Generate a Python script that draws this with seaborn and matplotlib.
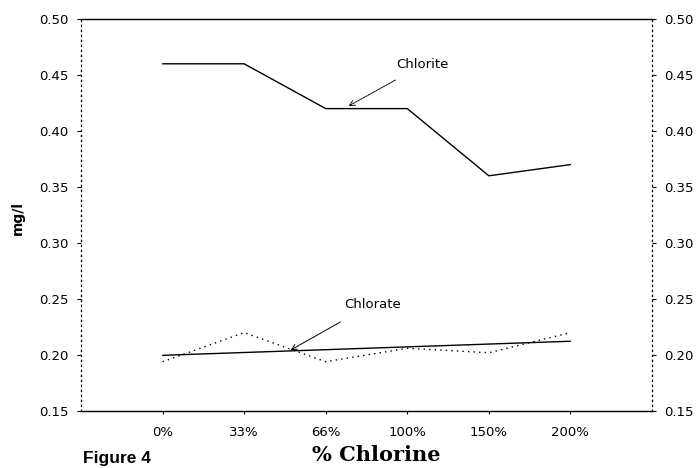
import matplotlib
matplotlib.use("Agg")
import matplotlib.pyplot as plt
import seaborn as sns
import numpy as np
import pandas as pd

categories = ["0%", "33%", "66%", "100%", "150%", "200%"]
chlorite = [0.46, 0.46, 0.42, 0.42, 0.36, 0.37]
chlorate = [0.194, 0.220, 0.194, 0.206, 0.202, 0.220]
y_ticks = [0.15, 0.20, 0.25, 0.30, 0.35, 0.40, 0.45, 0.50]

sns.set_style("ticks")
plt.rcParams['font.family'] = ['DejaVu Sans']
plt.rcParams['text.color'] = 'black'
plt.rcParams['axes.labelcolor'] = 'black'
plt.rcParams['xtick.color'] = 'black'
plt.rcParams['ytick.color'] = 'black'
plt.rcParams['axes.edgecolor'] = 'black'

df = pd.DataFrame({"idx": np.arange(len(categories)), "cat": categories,
                   "chlorite": chlorite, "chlorate": chlorate})

fig = plt.figure(figsize=(6.97, 4.68), dpi=100)
ax = fig.add_axes([81/697, 1-411/468, (652-81)/697, (411-19)/468])

sns.lineplot(data=df, x="idx", y="chlorite", ax=ax, color="black", lw=1.0)
sns.lineplot(data=df, x="idx", y="chlorate", ax=ax, color="black", lw=1.0,
             linestyle=(0, (1, 3)))
sns.regplot(data=df, x="idx", y="chlorate", ax=ax, scatter=False, ci=None,
            color="black", line_kws={"lw": 1.0})

ax.set_xlim(-1, 6)
ax.set_ylim(0.15, 0.50)
ax.set_xticks(df["idx"])
ax.set_xticklabels(categories, fontsize=9.5)
ax.set_yticks(y_ticks)
ax.set_yticklabels([f"{v:.2f}" for v in y_ticks], fontsize=9.5)
ax.tick_params(axis="y", which="both", left=True, right=True,
               labelleft=True, labelright=True, length=3, width=0.8,
               direction="out", pad=6, colors="black")
ax.tick_params(axis="x", length=2, width=0.8, direction="out", pad=9,
               colors="black")
ax.set_xlabel("")
ax.set_ylabel("mg/l", fontsize=10, fontweight="bold", color="black")
ax.yaxis.set_label_coords((25-81)/571, (411-218)/392)

for side in ["left", "right"]:
    ax.spines[side].set_visible(True)
    ax.spines[side].set_linestyle((0, (1, 3)))
    ax.spines[side].set_linewidth(0.9)
    ax.spines[side].set_color("black")
for side in ["top", "bottom"]:
    ax.spines[side].set_visible(True)
    ax.spines[side].set_linewidth(1.0)
    ax.spines[side].set_color("black")

ax.annotate("Chlorite", xy=(2.28, 0.4223), xytext=(3.19, 0.459),
            fontsize=9.5, ha="center", va="center", color="black",
            arrowprops=dict(arrowstyle="->", color="black", lw=0.7,
                            shrinkA=8, shrinkB=0, linestyle=(0, (2, 1))))
ax.annotate("Chlorate", xy=(1.57, 0.2044), xytext=(2.57, 0.2455),
            fontsize=9.5, ha="center", va="center", color="black",
            arrowprops=dict(arrowstyle="->", color="black", lw=0.7,
                            shrinkA=12, shrinkB=0))

fig.text(376/697, 1-455/468, "% Chlorine", fontsize=15, fontweight="bold",
         family=["DejaVu Serif"], ha="center", va="center", color="black")
fig.text(83/697, 1-459/468, "Figure 4", fontsize=12.5, fontweight="bold",
         family=["Liberation Sans", "DejaVu Sans"], ha="left", va="center",
         color="black")

fig.savefig("out.png", dpi=100)
